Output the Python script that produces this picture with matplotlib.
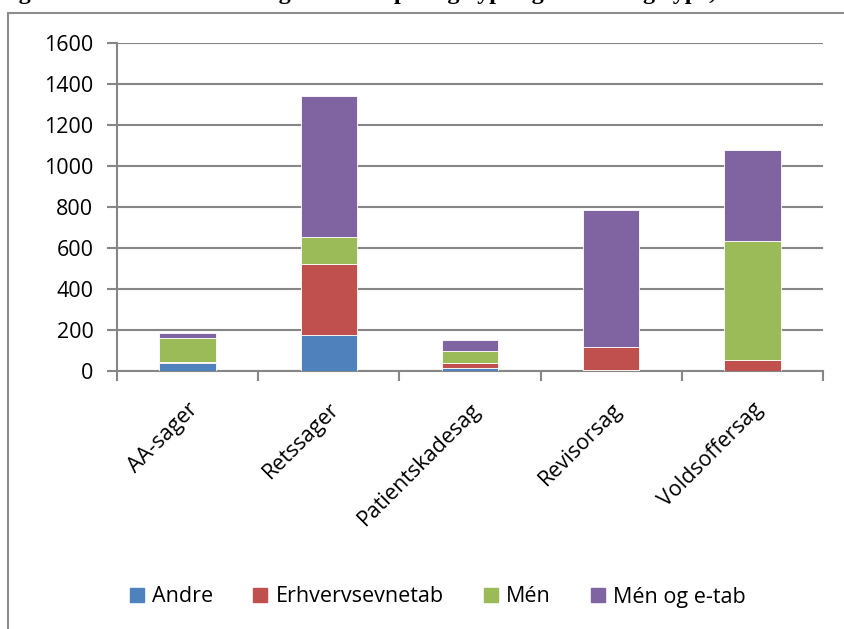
import matplotlib.pyplot as plt
from matplotlib.patches import Rectangle
from matplotlib.lines import Line2D

# data
categories = ['AA-sager', 'Retssager', 'Patientskadesag', 'Revisorsag', 'Voldsoffersag']
andre = [38, 175, 17, 5, 2]
erhvervsevnetab = [8, 348, 20, 110, 53]
men = [115, 132, 63, 0, 577]
men_og_etab = [24, 685, 52, 668, 448]

series = [('Andre', andre, '#4F81BD'),
          ('Erhvervsevnetab', erhvervsevnetab, '#C0504D'),
          ('Mén', men, '#9BBB59'),
          ('Mén og e-tab', men_og_etab, '#8064A2')]

yticks = [0, 200, 400, 600, 800, 1000, 1200, 1400, 1600]

plt.rcParams['font.family'] = ['Open Sans', 'DejaVu Sans']


def make_chart():
    fig = plt.figure(figsize=(8.44, 6.29), dpi=100)

    # chart frame (right and bottom edge fall outside the picture)
    fig.patches.append(Rectangle((8 / 844, -0.05), 1.0, 1 - 13 / 629 + 0.05,
                                 transform=fig.transFigure, fill=False,
                                 edgecolor='#8C8C8C', linewidth=1.5))

    # caption above the chart, only its descenders show at the top edge
    fig.text(-0.004, 1 + 1.5 / 629, 'Figur 7: Antal afsluttede sager fordelt på sagstype og erstatningstype, 2010',
             family='Liberation Serif', weight='bold', fontsize=17.5, va='baseline', ha='left')

    ax = fig.add_axes([117 / 844, 1 - 371 / 629, (823 - 117) / 844, (371 - 43) / 629])

    x = range(len(categories))
    bottom = [0] * len(categories)
    for name, vals, col in series:
        ax.bar(x, vals, width=0.4, bottom=bottom, color=col, edgecolor='white',
               linewidth=0.6, label=name, zorder=3)
        bottom = [b + v for b, v in zip(bottom, vals)]

    ax.set_xlim(-0.5, len(categories) - 0.5)
    ax.set_ylim(0, 1600)
    ax.set_yticks(yticks)
    ax.set_yticklabels([str(t) for t in yticks], fontsize=15.5)
    ax.yaxis.grid(True, color='#868686', linewidth=1.5, zorder=0)

    ax.set_xticks([i - 0.5 for i in range(len(categories) + 1)])
    ax.set_xticklabels([])
    ax.set_xticks(list(x), minor=True)
    ax.set_xticklabels(categories, minor=True, rotation=45, ha='right',
                       rotation_mode='anchor', fontsize=15.5)
    ax.tick_params(axis='x', which='minor', length=0, pad=20)
    ax.tick_params(axis='x', which='major', length=7, width=1.5, color='#868686')
    ax.tick_params(axis='y', length=7, width=1.5, color='#868686', pad=10)

    for s in ['top', 'right']:
        ax.spines[s].set_visible(False)
    for s in ['left', 'bottom']:
        ax.spines[s].set_color('#868686')
        ax.spines[s].set_linewidth(1.5)

    handles = [Line2D([], [], marker='s', linestyle='', markersize=10.5,
                      markerfacecolor=col, markeredgecolor=col) for _, _, col in series]
    fig.legend(handles, [n for n, _, _ in series], loc='center',
               bbox_to_anchor=(437 / 844, 1 - 597 / 629), ncol=4, frameon=False,
               fontsize=15.5, handlelength=0.8, handletextpad=0.3, columnspacing=1.8)

    plt.savefig('out.png', dpi=100)
    plt.close()


if __name__ == "__main__":
    make_chart()
